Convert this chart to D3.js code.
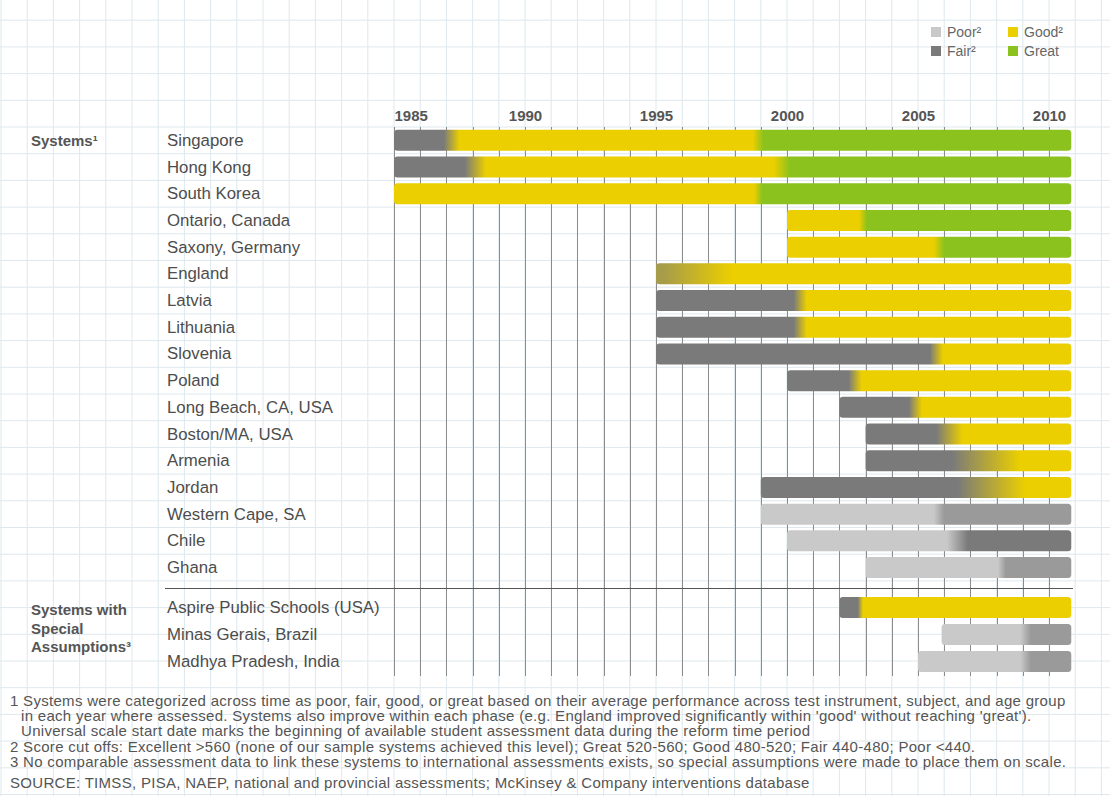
<!DOCTYPE html>
<html>
<head>
<meta charset="utf-8">
<script src="https://cdn.jsdelivr.net/npm/d3@7"></script>
<style>
  body { margin: 0; background: #fff; }
  svg { display: block; }
  text { font-family: "Liberation Sans", Arial, sans-serif; }
</style>
</head>
<body>
<div id="chart"></div>
<script>

// level: 1 = Poor, 2 = Fair, 3 = Good, 4 = Great (fractions = in between)
var levelNames = ["Poor²", "Fair²", "Good²", "Great"]

var systems = ["Singapore", "Hong Kong", "South Korea", "Ontario, Canada", "Saxony, Germany",
  "England", "Latvia", "Lithuania", "Slovenia", "Poland", "Long Beach, CA, USA",
  "Boston/MA, USA", "Armenia", "Jordan", "Western Cape, SA", "Chile", "Ghana"]
var special = ["Aspire Public Schools (USA)", "Minas Gerais, Brazil", "Madhya Pradesh, India"]

var startYears = [1985, 1985, 1985, 2000, 2000, 1995, 1995, 1995, 1995, 2000, 2002, 2003, 2003, 1999, 1999, 2000, 2003,
  2002, 2005.9, 2005]
var levels = [[2, 3, 4], [2, 3, 4], [3, 4], [3, 4], [3, 4], [2.4, 3], [2, 3], [2, 3], [2, 3], [2, 3], [2, 3],
  [2, 3], [2, 3], [2, 3], [1, 1.6], [1, 2], [1, 1.6],
  [2, 3], [1, 1.6], [1, 1.6]]
var changeYears = [[1987.2, 1998.9], [1988.1, 1999.8], [1998.9], [2002.9], [2005.8], [1996.6], [2000.5], [2000.5],
  [2005.7], [2002.6], [2004.9], [2006.2], [2007.6], [2007.8], [2005.8], [2006.5], [2008.2],
  [2002.8], [2009.1], [2009.1]]
var blendWidths = [[0.6, 0.4], [0.8, 0.6], [0.3], [0.3], [0.4], [2.6], [0.5], [0.5], [0.5], [0.5], [0.5],
  [1.0], [2.6], [2.6], [0.4], [0.8], [0.3],
  [0.2], [0.4], [0.4]]
var endYear = 2010.85

var tickYears = [1985, 1990, 1995, 2000, 2005, 2010]

var footnotes = [
  ["1 Systems were categorized across time as poor, fair, good, or great based on their average performance across test instrument, subject, and age group", 10],
  ["in each year where assessed. Systems also improve within each phase (e.g. England improved significantly within 'good' without reaching 'great').", 21],
  ["Universal scale start date marks the beginning of available student assessment data during the reform time period", 21],
  ["2 Score cut offs: Excellent >560 (none of our sample systems achieved this level); Great 520-560; Good 480-520; Fair 440-480; Poor <440.", 10],
  ["3 No comparable assessment data to link these systems to international assessments exists, so special assumptions were made to place them on scale.", 10],
  ["SOURCE: TIMSS, PISA, NAEP, national and provincial assessments; McKinsey & Company interventions database", 10]
]

var W = 1110, H = 796

var svg = d3.select("#chart").append("svg").attr("width", W).attr("height", H)

var x = d3.scaleLinear().domain([1985, 2010]).range([394, 1049])
var ySys = d3.scaleBand().domain(systems).range([127, 127 + 17 * 26.7])
var ySpec = d3.scaleBand().domain(special).range([594, 594 + 3 * 27])
var color = d3.scaleLinear().domain([1, 2, 3, 4])
  .range(["#c9c9c9", "#7a7a7a", "#ebcf00", "#8cc21e"])

function rowY(name){
  return systems.indexOf(name) >= 0 ? ySys(name) + ySys.bandwidth() / 2 : ySpec(name) + ySpec.bandwidth() / 2
}

// graph paper background
var paper = svg.append("g")
var step = x(1986) - x(1985)
var vx = d3.range(x(1985) - step * 16, W, step)
paper.selectAll("line.v").data(vx).enter().append("line")
  .attr("x1", function(d){ return d }).attr("x2", function(d){ return d })
  .attr("y1", 0).attr("y2", H)
  .style("stroke", "#dee8ee").style("stroke-width", 1)
var hy = d3.range(127 - 26.7 * 5, H, 26.7)
paper.selectAll("line.h").data(hy).enter().append("line")
  .attr("x1", 0).attr("x2", W)
  .attr("y1", function(d){ return d }).attr("y2", function(d){ return d })
  .style("stroke", "#dee8ee").style("stroke-width", 1)

// year grid lines
svg.append("g").selectAll("line").data(d3.range(1985, 2011)).enter().append("line")
  .attr("x1", function(d){ return Math.round(x(d)) + 0.5 })
  .attr("x2", function(d){ return Math.round(x(d)) + 0.5 })
  .attr("y1", 127).attr("y2", 676)
  .style("stroke", "#8c8c8c").style("stroke-width", 1)

// separator between the two groups
svg.append("line").attr("x1", 165).attr("x2", 1073).attr("y1", 588.5).attr("y2", 588.5)
  .style("stroke", "#555").style("stroke-width", 1)

// year labels
var axis = svg.append("g").attr("transform", "translate(0,121)")
  .call(d3.axisTop(x).tickValues(tickYears).tickSize(0).tickPadding(0).tickFormat(d3.format("d")))
axis.select(".domain").remove()
axis.selectAll("text")
  .style("font-size", "15px").style("font-weight", "bold").attr("fill", "#555")
  .attr("dy", 0)
  .attr("text-anchor", function(d){ return d == 1985 ? "start" : "middle" })

// bars with soft transitions
var allRows = systems.concat(special)
var defs = svg.append("defs")
allRows.forEach(function(name, i){
  var x0 = x(startYears[i]), x1 = x(endYear)
  var grad = defs.append("linearGradient").attr("id", "g" + i)
    .attr("gradientUnits", "userSpaceOnUse")
    .attr("x1", x0).attr("x2", x1).attr("y1", 0).attr("y2", 0)
  var off = function(yr){ return Math.max(0, Math.min(1, (x(yr) - x0) / (x1 - x0))) }
  var lv = levels[i]
  grad.append("stop").attr("offset", 0).attr("stop-color", color(lv[0]))
  changeYears[i].forEach(function(c, k){
    var w = blendWidths[i][k] / 2
    grad.append("stop").attr("offset", off(c - w)).attr("stop-color", color(lv[k]))
    grad.append("stop").attr("offset", off(c + w)).attr("stop-color", color(lv[k + 1]))
  })
  grad.append("stop").attr("offset", 1).attr("stop-color", color(lv[lv.length - 1]))
})

svg.append("g").selectAll("rect").data(allRows).enter().append("rect")
  .attr("x", function(d, i){ return x(startYears[i]) })
  .attr("width", function(d, i){ return x(endYear) - x(startYears[i]) })
  .attr("y", function(d){ return rowY(d) - 10.5 })
  .attr("height", 21)
  .attr("rx", 3.5)
  .attr("fill", function(d, i){ return "url(#g" + i + ")" })

// row labels
svg.append("g").selectAll("text").data(allRows).enter().append("text")
  .attr("x", 167).attr("y", function(d){ return rowY(d) + 5.5 })
  .style("font-size", "16.8px").attr("fill", "#4d4d4d")
  .text(function(d){ return d })

// group labels
svg.append("text").attr("x", 31).attr("y", rowY(systems[0]) + 5.5)
  .style("font-size", "15px").style("font-weight", "bold").attr("fill", "#555")
  .text("Systems¹")
svg.append("text").attr("x", 31).attr("y", 615)
  .style("font-size", "15px").style("font-weight", "bold").attr("fill", "#555")
  .selectAll("tspan").data(["Systems with", "Special", "Assumptions³"]).enter().append("tspan")
  .attr("x", 31).attr("dy", function(d, i){ return i ? 18.5 : 0 })
  .text(function(d){ return d })

// legend
var legend = svg.append("g")
var legendPos = [[931, 27], [931, 46], [1008, 27], [1008, 46]]
legend.selectAll("rect").data(levelNames).enter().append("rect")
  .attr("x", function(d, i){ return legendPos[i][0] }).attr("y", function(d, i){ return legendPos[i][1] })
  .attr("width", 10).attr("height", 10)
  .attr("fill", function(d, i){ return color(i + 1) })
legend.selectAll("text").data(levelNames).enter().append("text")
  .attr("x", function(d, i){ return legendPos[i][0] + 16 })
  .attr("y", function(d, i){ return legendPos[i][1] + 10 })
  .style("font-size", "14px").attr("fill", "#666")
  .text(function(d){ return d })

// footnotes
svg.append("g").selectAll("text").data(footnotes).enter().append("text")
  .attr("x", function(d){ return d[1] })
  .attr("y", function(d, i){ return [706, 721, 736, 752, 767, 788][i] })
  .style("font-size", "15px").style("letter-spacing", "0.3px").attr("fill", "#555")
  .text(function(d){ return d[0] })

</script>
</body>
</html>
